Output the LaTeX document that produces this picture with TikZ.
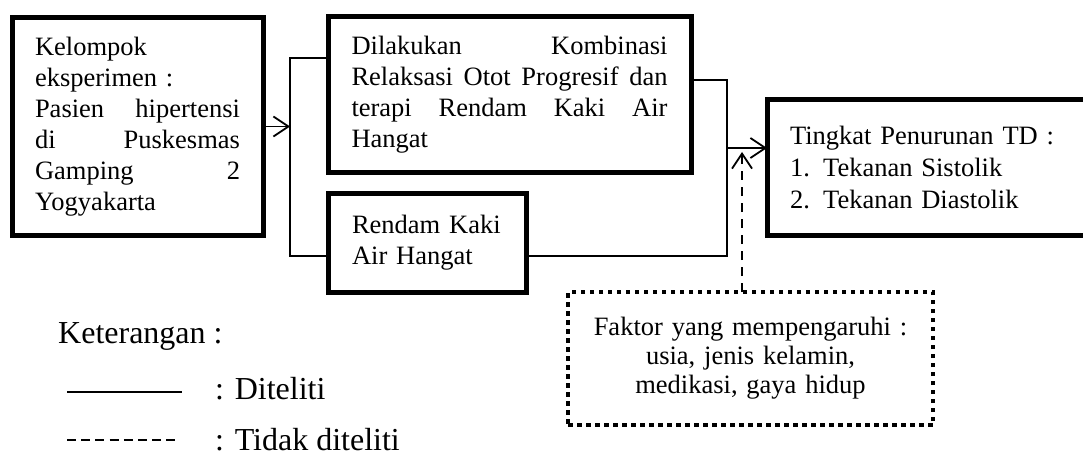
\documentclass[tikz,border=0pt]{standalone}
\usepackage{fontspec}
\setmainfont{Liberation Serif}
\usetikzlibrary{arrows.meta}
\begin{document}
\begin{tikzpicture}[x=1pt,y=-1pt,
  box/.style={draw, line width=5pt, anchor=north west, inner sep=0pt, outer sep=0pt,
    align=left, font=\fontsize{26.5}{31}\selectfont},
  dotbox/.style={draw, line width=4.5pt, dash pattern=on 4.5pt off 4.5pt, anchor=north west,
    inner sep=0pt, outer sep=0pt, align=center, font=\fontsize{26.5}{29}\selectfont},
  conn/.style={line width=1.8pt},
  dashconn/.style={line width=2pt, dash pattern=on 9pt off 7pt},
  tip/.style={-{Straight Barb[length=15pt,width=20pt,line width=1.8pt]}},
  legend/.style={anchor=base west, inner sep=0pt, font=\fontsize{32}{36}\selectfont}
]
\useasboundingbox (0,0) rectangle (1083,457);

\node[box, minimum width=251pt, minimum height=217pt, text width=205pt] (b1) at (12,18)
  {Kelompok\\
   eksperimen :\\
   Pasien\hfill hipertensi\\
   di\hfill Puskesmas\\
   Gamping\hfill 2\\
   Yogyakarta};

\node[box, minimum width=363pt, minimum height=156pt, text width=316pt] (b2) at (328,17)
  {Dilakukan\hfill Kombinasi\\
   Relaksasi\hfill Otot\hfill Progresif\hfill dan\\
   terapi\hfill Rendam\hfill Kaki\hfill Air\\
   Hangat};

\node[box, minimum width=198pt, minimum height=99pt, text width=150pt] (b3) at (328,193)
  {Rendam Kaki\\
   Air Hangat};

\node[box, minimum width=333pt, minimum height=135pt, text width=287pt,
  font=\fontsize{26.5}{32}\selectfont] (b4) at (767,100)
  {Tingkat Penurunan TD :\\
   1. Tekanan Sistolik\\
   2. Tekanan Diastolik};

\node[dotbox, minimum width=365pt, minimum height=133pt, text width=340pt] (b5) at (568,292)
  {Faktor yang mempengaruhi :\\
   usia, jenis kelamin,\\
   medikasi, gaya hidup};

% left split
\coordinate (s1) at (290,58);
\coordinate (s2) at (290,256);
\draw[conn] (b2.west |- s1) -- (s1) -- (s2) -- (b3.west |- s2);
\draw[conn,tip] (b1.east) -- (b1.east -| s1);

% right merge
\coordinate (m1) at (727,80);
\coordinate (m2) at (727,256);
\coordinate (m3) at (727,148);
\draw[conn] (b2.east |- m1) -- (m1) -- (m2) -- (b3.east |- m2);
\draw[conn,tip] (m3) -- (m3 -| b4.west);

% dashed influence
\coordinate (d1) at (742,152);
\draw[dashconn,-{Straight Barb[length=15pt,width=20pt,line width=1.8pt]}] (d1 |- b5.north) -- (d1);

% legend
\node[legend] (k) at (58,343) {Keterangan :};
\coordinate (l1a) at (67,392);
\coordinate (l1b) at (182,392);
\draw[conn] (l1a) -- (l1b);
\node[legend] (dt) at (215,399) {: Diteliti};
\coordinate (l2a) at (67,440);
\coordinate (l2b) at (176,440);
\draw[line width=1.8pt, dash pattern=on 9pt off 5.2pt] (l2a) -- (l2b);
\node[legend] (td) at (215,450) {: Tidak diteliti};
\end{tikzpicture}
\end{document}
